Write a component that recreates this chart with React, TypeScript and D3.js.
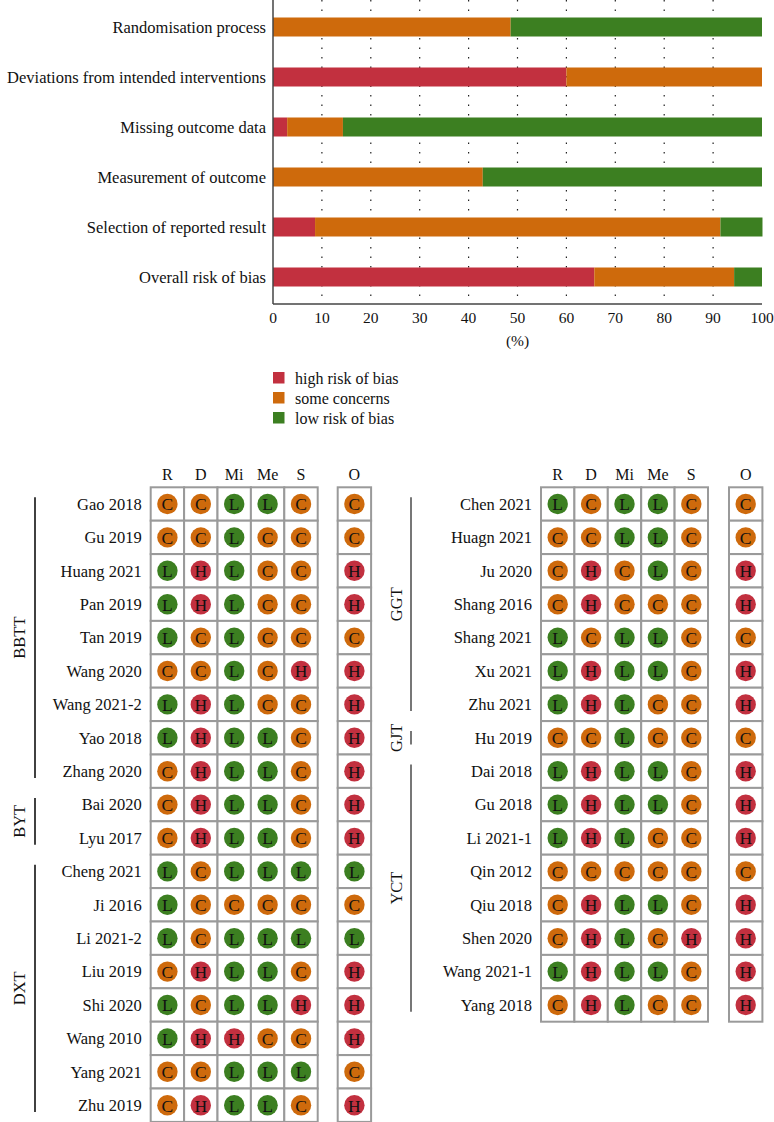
import React from "react";
import * as d3 from "d3";

// ---- summary bar chart data (percent of studies) ----
const domains = [
  "Randomisation process",
  "Deviations from intended interventions",
  "Missing outcome data",
  "Measurement of outcome",
  "Selection of reported result",
  "Overall risk of bias",
];
const highPct = [0, 60, 2.9, 0, 8.6, 65.7];
const somePct = [48.6, 40, 11.4, 42.9, 82.9, 28.6];
const lowPct = [51.4, 0, 85.7, 57.1, 8.6, 5.7];
const xTicks = [0, 10, 20, 30, 40, 50, 60, 70, 80, 90, 100];

const legendLabels = ["high risk of bias", "some concerns", "low risk of bias"];

// ---- traffic light data ----
const domainCols = ["R", "D", "Mi", "Me", "S"];

const leftStudies = [
  "Gao 2018", "Gu 2019", "Huang 2021", "Pan 2019", "Tan 2019", "Wang 2020",
  "Wang 2021-2", "Yao 2018", "Zhang 2020", "Bai 2020", "Lyu 2017",
  "Cheng 2021", "Ji 2016", "Li 2021-2", "Liu 2019", "Shi 2020",
  "Wang 2010", "Yang 2021", "Zhu 2019",
];
// R D Mi Me S | O
const leftScores = [
  "CCLLCC", "CCLCCC", "LHLCCH", "LHLCCH", "LCLCCC", "CCLCHH",
  "LHLCCH", "LHLLCH", "CHLLCH", "CHLLCH", "CHLLCH",
  "LCLLLL", "LCCCCC", "LCLLLL", "CHLLCH", "LCLLHH",
  "LHHCCH", "CCLLLC", "CHLLCH",
];
const leftGroups = [
  { name: "BBTT", first: 0, last: 8 },
  { name: "BYT", first: 9, last: 10 },
  { name: "DXT", first: 11, last: 18 },
];

const rightStudies = [
  "Chen 2021", "Huagn 2021", "Ju 2020", "Shang 2016", "Shang 2021",
  "Xu 2021", "Zhu 2021", "Hu 2019", "Dai 2018", "Gu 2018", "Li 2021-1",
  "Qin 2012", "Qiu 2018", "Shen 2020", "Wang 2021-1", "Yang 2018",
];
const rightScores = [
  "LCLLCC", "CCLLCC", "CHCLCH", "CHCCCH", "LCLLCC",
  "LHLLCH", "LHLCCH", "CCLCCC", "LHLLCH", "LHLLCH", "LHLCCH",
  "CCCCCC", "CHLLCH", "CHLCHH", "LHLLCH", "CHLCCH",
];
const rightGroups = [
  { name: "GGT", first: 0, last: 6 },
  { name: "GJT", first: 7, last: 7 },
  { name: "YCT", first: 8, last: 15 },
];

const RED = "#c2303f";
const ORANGE = "#ce6a0c";
const GREEN = "#3c7f21";
const colorOf: Record<string, string> = { H: RED, C: ORANGE, L: GREEN };
const FONT = "'Liberation Serif', 'Times New Roman', serif";

const W = 774;
const H = 1122;

// Top stacked bar chart
const BarChart = () => {
  const x = d3.scaleLinear().domain([0, 100]).range([273, 762]);
  const y = d3.scaleBand().domain(domains).range([2, 302]);
  const barH = 19;
  const axisY = 304;
  const rows = domains.map((d, i) => ({
    label: d,
    parts: [
      { c: RED, from: 0, to: highPct[i] },
      { c: ORANGE, from: highPct[i], to: highPct[i] + somePct[i] },
      { c: GREEN, from: highPct[i] + somePct[i], to: highPct[i] + somePct[i] + lowPct[i] },
    ],
  }));
  return (
    <g>
      {xTicks.slice(1, -1).map((t) => (
        <line key={t} x1={x(t)} x2={x(t)} y1={0} y2={axisY} stroke="#222"
          strokeWidth={1.2} strokeDasharray="1.5,8" />
      ))}
      {rows.map((r) => {
        const yy = (y(r.label) as number) + (y.bandwidth() - barH) / 2;
        return (
          <g key={r.label}>
            {r.parts.filter((p) => p.to > p.from).map((p, j) => (
              <rect key={j} x={x(p.from)} y={yy} width={x(p.to) - x(p.from)}
                height={barH} fill={p.c} />
            ))}
            <text x={266} y={yy + barH / 2} dy="0.35em" textAnchor="end"
              fontSize={16.5} fontFamily={FONT} fill="#111">{r.label}</text>
          </g>
        );
      })}
      <line x1={273} x2={273} y1={0} y2={axisY} stroke="#444" strokeWidth={1.5} />
      <line x1={273} x2={762} y1={axisY} y2={axisY} stroke="#444" strokeWidth={1.5} />
      {xTicks.map((t) => (
        <text key={t} x={x(t)} y={323} textAnchor="middle" fontSize={15.5}
          fontFamily={FONT} fill="#111">{t}</text>
      ))}
      <text x={(x(0) + x(100)) / 2} y={346} textAnchor="middle" fontSize={15.5}
        fontFamily={FONT} fill="#111">(%)</text>
      {legendLabels.map((l, i) => (
        <g key={l}>
          <rect x={273} y={372 + i * 20} width={11.5} height={11.5}
            fill={[RED, ORANGE, GREEN][i]} />
          <text x={295} y={378 + i * 20} dy="0.35em" fontSize={16}
            fontFamily={FONT} fill="#111">{l}</text>
        </g>
      ))}
    </g>
  );
};

type TLProps = {
  studies: string[];
  scores: string[];
  groups: { name: string; first: number; last: number }[];
  gridX: number;
  overallX: number;
  groupX: number;
  groupLabelX: number;
  groupColor: string;
};

// Traffic light table
const TrafficLight = ({ studies, scores, groups, gridX, overallX, groupX, groupLabelX, groupColor }: TLProps) => {
  const cell = 33.4;
  const top = 487.3;
  const col = d3.scaleBand().domain(domainCols).range([gridX, gridX + cell * 5]);
  const row = d3.scaleBand<number>().domain(studies.map((_, i) => i))
    .range([top, top + cell * studies.length]);
  const r = 10.2;
  const dot = (cx: number, cy: number, v: string, key: string) => (
    <g key={key}>
      <circle cx={cx} cy={cy} r={r} fill={colorOf[v]} />
      <text x={cx} y={cy} dy="0.36em" textAnchor="middle" fontSize={17.5}
        fontFamily={FONT} fill="#111">{v}</text>
    </g>
  );
  return (
    <g>
      {domainCols.map((c) => (
        <text key={c} x={(col(c) as number) + cell / 2} y={474} dy="0.35em"
          textAnchor="middle" fontSize={16} fontFamily={FONT} fill="#111">{c}</text>
      ))}
      <text x={overallX + cell / 2} y={474} dy="0.35em" textAnchor="middle"
        fontSize={16} fontFamily={FONT} fill="#111">O</text>
      {studies.map((s, i) => {
        const y0 = row(i) as number;
        const cy = y0 + cell / 2;
        return (
          <g key={s}>
            <text x={gridX - 9} y={cy} dy="0.35em" textAnchor="end" fontSize={16.5}
              fontFamily={FONT} fill="#111">{s}</text>
            {domainCols.map((c) => (
              <rect key={c} x={col(c)} y={y0} width={cell} height={cell}
                fill="#fff" stroke="#9a9a9a" strokeWidth={2} />
            ))}
            <rect x={overallX} y={y0} width={cell} height={cell} fill="#fff"
              stroke="#9a9a9a" strokeWidth={2} />
            {domainCols.map((c, j) =>
              dot((col(c) as number) + cell / 2, cy, scores[i][j], c))}
            {dot(overallX + cell / 2, cy, scores[i][5], "o")}
          </g>
        );
      })}
      {groups.map((g) => {
        const y1 = (row(g.first) as number) + 10;
        const y2 = (row(g.last) as number) + cell - 10;
        const ym = (y1 + y2) / 2;
        return (
          <g key={g.name}>
            <line x1={groupX} x2={groupX} y1={y1} y2={y2} stroke={groupColor}
              strokeWidth={1.6} />
            <text transform={`translate(${groupLabelX},${ym}) rotate(-90)`}
              dy="0.35em" textAnchor="middle" fontSize={16.5} fontFamily={FONT}
              fill="#111">{g.name}</text>
          </g>
        );
      })}
    </g>
  );
};

const App = () => (
  <div style={{ position: "absolute", left: 0, top: 0 }}>
    <svg width={W} height={H} style={{ display: "block", background: "#fff" }}>
      <BarChart />
      <TrafficLight studies={leftStudies} scores={leftScores} groups={leftGroups}
        gridX={150.7} overallX={337.7} groupX={35} groupLabelX={19}
        groupColor="#111" />
      <TrafficLight studies={rightStudies} scores={rightScores} groups={rightGroups}
        gridX={541} overallX={729} groupX={411} groupLabelX={396}
        groupColor="#555" />
    </svg>
  </div>
);

export default App;
